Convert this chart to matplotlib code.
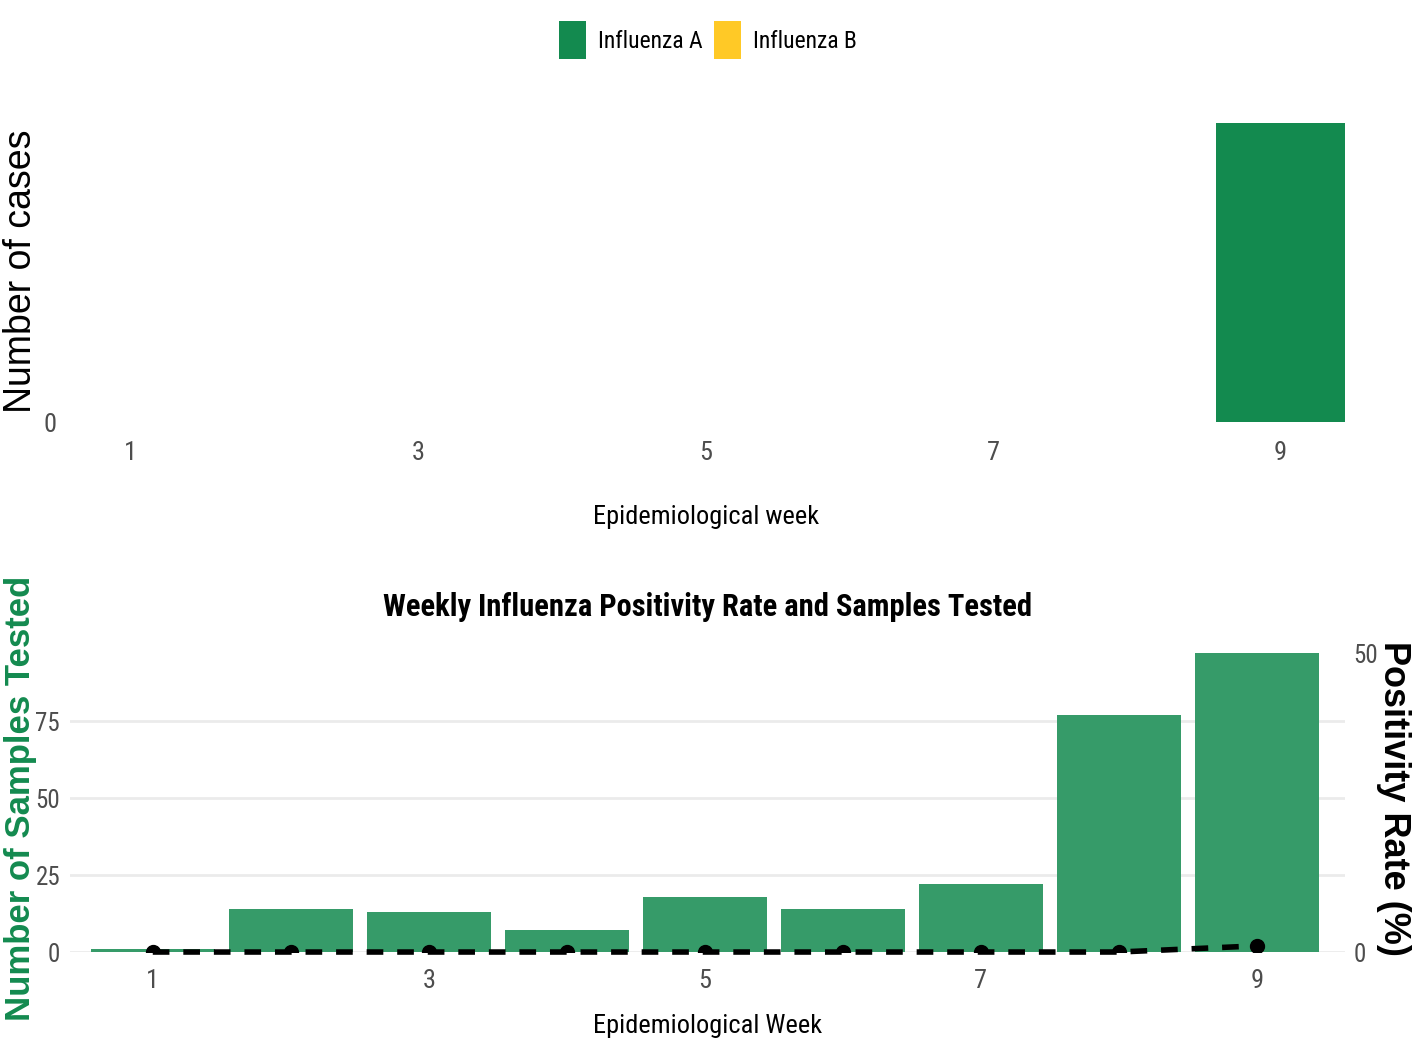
import numpy as np
import matplotlib.pyplot as plt

weeks = [1, 2, 3, 4, 5, 6, 7, 8, 9]
flu_a = [0, 0, 0, 0, 0, 0, 0, 0, 1]
flu_b = [0, 0, 0, 0, 0, 0, 0, 0, 0]
samples = [1, 14, 13, 7, 18, 14, 22, 77, 97]
positivity = [0, 0, 0, 0, 0, 0, 0, 0, 1.03]
week_ticks = [1, 3, 5, 7, 9]

green = '#138A4F'
yellow = '#FFC926'
bar2 = '#369B69'
grey = '#4D4D4D'
narrow = ['Roboto Condensed', 'DejaVu Sans']
wide = ['Liberation Sans', 'DejaVu Sans']

fig = plt.figure(figsize=(14.16, 10.63), dpi=100)

# top panel: cases by type
ax1 = fig.add_axes([0.0466, 0.603, 0.9034, 0.295])
ax1.bar(weeks, flu_a, width=0.9, color=green, label='Influenza A')
ax1.bar(weeks, flu_b, width=0.9, bottom=flu_a, color=yellow, label='Influenza B')
ax1.set_xlim(0.55, 9.45)
ax1.set_ylim(0, 1.05)
ax1.set_xticks(week_ticks)
ax1.set_yticks([0])
for s in ax1.spines.values():
    s.set_visible(False)
ax1.tick_params(length=0, colors=grey, labelsize=19)
ax1.tick_params(axis='x', pad=14)
ax1.tick_params(axis='y', pad=7)
for t in ax1.get_xticklabels() + ax1.get_yticklabels():
    t.set_family(narrow)
ax1.set_xlabel('Epidemiological week', fontsize=19, family=narrow, color='black')
ax1.xaxis.set_label_coords(0.5, -0.265)
ax1.set_ylabel('Number of cases', fontsize=27, family=wide, color='black')
ax1.yaxis.set_label_coords(-0.021, 0.48)

fig.legend(loc='upper center', bbox_to_anchor=(0.5, 0.991), ncol=2, frameon=False,
           prop={'family': narrow, 'size': 17}, borderpad=0,
           handlelength=1.15, handleheight=2.1,
           handletextpad=0.5, columnspacing=0.5)

# bottom panel: samples tested + positivity
ax2 = fig.add_axes([0.0494, 0.1044, 0.9006, 0.2897])
ax2.bar(weeks, samples, width=0.9, color=bar2, zorder=2)
ax2.set_xlim(0.4, 9.64)
ax2.set_ylim(0, 100)
ax2.set_xticks(week_ticks)
ax2.set_yticks([0, 25, 50, 75])
ax2.grid(axis='y', color='#EBEBEB', linewidth=2, zorder=0)
ax2.set_axisbelow(True)
for s in ax2.spines.values():
    s.set_visible(False)
ax2.tick_params(length=0, colors=grey, labelsize=18)
ax2.tick_params(axis='x', pad=12, labelsize=19)
ax2.tick_params(axis='y', pad=7)
for t in ax2.get_xticklabels() + ax2.get_yticklabels():
    t.set_family(narrow)
ax2.set_xlabel('Epidemiological Week', fontsize=19, family=narrow, color='black')
ax2.xaxis.set_label_coords(0.5, -0.2)
ax2.set_ylabel('Number of Samples Tested', fontsize=25, family=wide, fontweight='bold',
               color=green)
ax2.yaxis.set_label_coords(-0.026, 0.5)
ax2.set_title('Weekly Influenza Positivity Rate and Samples Tested', fontsize=22,
              family=narrow, fontweight='bold', pad=20)

ax3 = ax2.twinx()
ax3.set_ylim(0, 100 * 50 / max(samples))
# dashed line left unclipped, points clipped at the panel edge
ax3.plot(weeks, positivity, color='black', linewidth=4, linestyle=(0, (3, 2.5)),
         clip_on=False)
ax3.plot(weeks, positivity, 'o', color='black', markersize=10)
ax3.set_yticks([0, 50])
for s in ax3.spines.values():
    s.set_visible(False)
ax3.tick_params(length=0, colors=grey, labelsize=18, pad=6)
for t in ax3.get_yticklabels():
    t.set_family(narrow)
ax3.set_ylabel('Positivity Rate (%)', fontsize=26, family=wide, fontweight='bold',
               rotation=-90, va='bottom')
ax3.yaxis.set_label_coords(1.024, 0.5)

fig.savefig('out.png', dpi=100)
